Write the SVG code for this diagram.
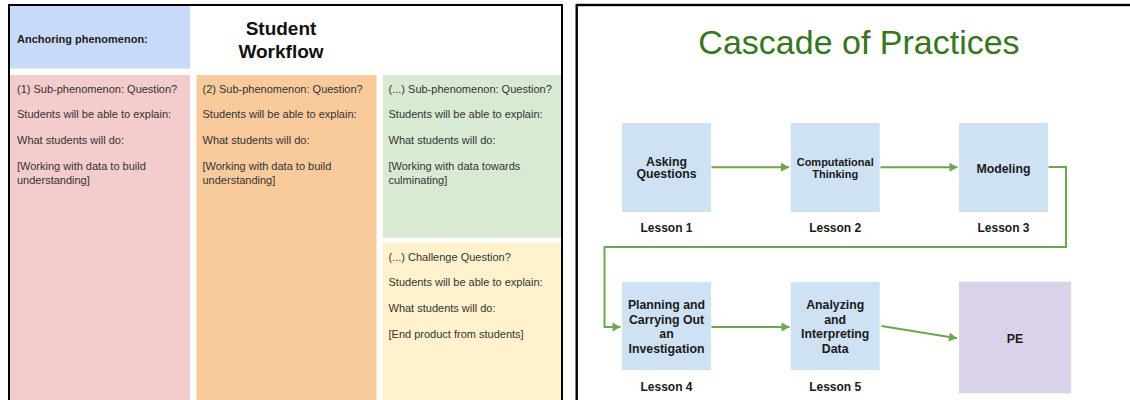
<svg xmlns="http://www.w3.org/2000/svg" width="1130" height="400" viewBox="0 0 1130 400">
  <style>
    .frame { fill: none; stroke: #000; }
    .body { font-family: "Liberation Sans", Arial, sans-serif; font-size: 11px; fill: #333; }
    .head { font-family: "Liberation Sans", Arial, sans-serif; font-size: 11px; font-weight: bold; fill: #222; }
    .big { font-family: "Liberation Sans", Arial, sans-serif; font-size: 19px; font-weight: bold; fill: #111; text-anchor: middle; }
    .title { font-family: "Liberation Sans", Arial, sans-serif; font-size: 34px; fill: #38761d; text-anchor: middle; }
    .box { fill: #cfe2f3; }
    .pe { fill: #d9d2e9; }
    .lbl { font-family: "Liberation Sans", Arial, sans-serif; font-size: 12.3px; font-weight: bold; fill: #1a1a1a; text-anchor: middle; }
    .les { font-family: "Liberation Sans", Arial, sans-serif; font-size: 12px; font-weight: bold; fill: #1a1a1a; text-anchor: middle; }
    .flow { fill: none; stroke: #6aa84f; stroke-width: 2; }
  </style>
  <defs>
    <marker id="arrow" markerUnits="userSpaceOnUse" markerWidth="10" markerHeight="10" viewBox="0 0 10 10" refX="9" refY="5" orient="auto">
      <path d="M1,0.5 L9,5 L1,9.5 Z" fill="#6aa84f"/>
    </marker>
  </defs>

  <rect width="1130" height="400" fill="#fff"/>

  <!-- Student workflow planner -->
  <g id="workflow">
    <g id="anchoring">
      <rect x="10" y="6" width="180" height="62.5" fill="#c9daf8"/>
      <text class="head" x="17" y="43">Anchoring phenomenon:</text>
    </g>
    <g id="workflow-title">
      <text class="big" x="281" y="34.5">Student</text>
      <text class="big" x="281" y="57.5">Workflow</text>
    </g>
    <g id="sub1">
      <rect x="10" y="75" width="180" height="330" fill="#f4cccc"/>
      <text class="body" x="17" y="93">(1) Sub-phenomenon: Question?</text>
      <text class="body" x="17" y="118">Students will be able to explain:</text>
      <text class="body" x="17" y="144">What students will do:</text>
      <text class="body" x="17" y="170">[Working with data to build</text>
      <text class="body" x="17" y="184">understanding]</text>
    </g>
    <g id="sub2">
      <rect x="196.5" y="75" width="180" height="330" fill="#f9cb9c"/>
      <text class="body" x="202.5" y="93">(2) Sub-phenomenon: Question?</text>
      <text class="body" x="202.5" y="118">Students will be able to explain:</text>
      <text class="body" x="202.5" y="144">What students will do:</text>
      <text class="body" x="202.5" y="170">[Working with data to build</text>
      <text class="body" x="202.5" y="184">understanding]</text>
    </g>
    <g id="sub-more">
      <rect x="382.7" y="75" width="178.3" height="162.7" fill="#d9ead3"/>
      <text class="body" x="388.5" y="93">(...) Sub-phenomenon: Question?</text>
      <text class="body" x="388.5" y="118">Students will be able to explain:</text>
      <text class="body" x="388.5" y="144">What students will do:</text>
      <text class="body" x="388.5" y="170">[Working with data towards</text>
      <text class="body" x="388.5" y="184">culminating]</text>
    </g>
    <g id="challenge">
      <rect x="382.7" y="242.7" width="178.3" height="162" fill="#fff2cc"/>
      <text class="body" x="388.5" y="261">(...) Challenge Question?</text>
      <text class="body" x="388.5" y="286">Students will be able to explain:</text>
      <text class="body" x="388.5" y="312">What students will do:</text>
      <text class="body" x="388.5" y="338">[End product from students]</text>
    </g>
    <rect class="frame" x="9" y="5" width="553" height="420" stroke-width="2"/>
  </g>

  <!-- Cascade of practices -->
  <g id="cascade">
    <rect class="frame" x="576.7" y="5" width="600" height="420" stroke-width="2.4"/>
    <text class="title" x="859" y="53.5">Cascade of Practices</text>

    <g id="connectors">
      <line class="flow" x1="711.5" y1="167.3" x2="789" y2="167.3" marker-end="url(#arrow)"/>
      <line class="flow" x1="880.5" y1="167.3" x2="957.5" y2="167.3" marker-end="url(#arrow)"/>
      <path class="flow" d="M1048.5,167 H1066 V247 H604.5 V327 H620.5" marker-end="url(#arrow)"/>
      <line class="flow" x1="711.5" y1="327" x2="789.5" y2="327" marker-end="url(#arrow)"/>
      <line class="flow" x1="881.5" y1="326" x2="957" y2="338.3" marker-end="url(#arrow)"/>
    </g>

    <g id="lesson1">
      <rect class="box" x="622" y="123" width="89" height="89"/>
      <text class="lbl" x="666.5" y="165.5">Asking</text>
      <text class="lbl" x="666.5" y="178.2">Questions</text>
      <text class="les" x="666.5" y="231.5">Lesson 1</text>
    </g>
    <g id="lesson2">
      <rect class="box" x="790.7" y="123" width="89" height="89"/>
      <text class="lbl" x="835.2" y="165.5" style="font-size:11px">Computational</text>
      <text class="lbl" x="835.2" y="178" style="font-size:11px">Thinking</text>
      <text class="les" x="835.2" y="231.5">Lesson 2</text>
    </g>
    <g id="lesson3">
      <rect class="box" x="959" y="123" width="89" height="89"/>
      <text class="lbl" x="1003.5" y="172.5">Modeling</text>
      <text class="les" x="1003.5" y="231.5">Lesson 3</text>
    </g>
    <g id="lesson4">
      <rect class="box" x="622" y="282" width="89" height="88"/>
      <text class="lbl" x="666.5" y="309.3">Planning and</text>
      <text class="lbl" x="666.5" y="323.8">Carrying Out</text>
      <text class="lbl" x="666.5" y="338.3">an</text>
      <text class="lbl" x="666.5" y="352.8">Investigation</text>
      <text class="les" x="666.5" y="391">Lesson 4</text>
    </g>
    <g id="lesson5">
      <rect class="box" x="790.7" y="282" width="89" height="88"/>
      <text class="lbl" x="835.2" y="309.3">Analyzing</text>
      <text class="lbl" x="835.2" y="323.8">and</text>
      <text class="lbl" x="835.2" y="338.3">Interpreting</text>
      <text class="lbl" x="835.2" y="352.8">Data</text>
      <text class="les" x="835.2" y="391">Lesson 5</text>
    </g>
    <g id="pe">
      <rect class="pe" x="959" y="281.7" width="112" height="111.6"/>
      <text class="lbl" x="1015" y="342.5">PE</text>
    </g>
  </g>
</svg>
